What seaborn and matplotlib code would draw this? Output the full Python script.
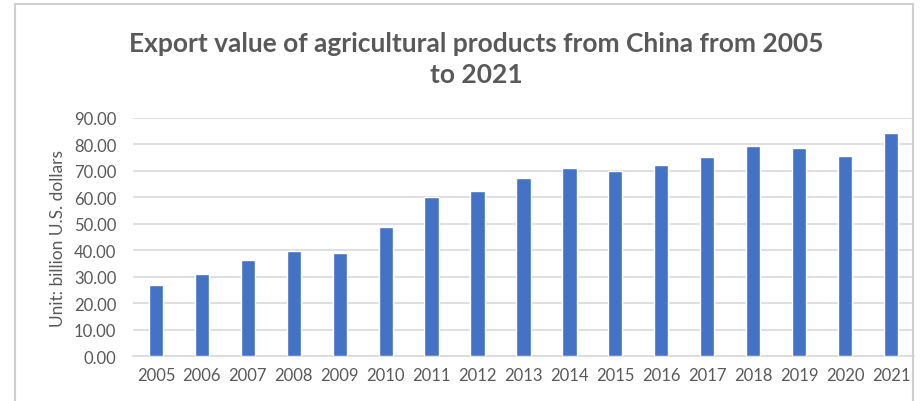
import matplotlib
matplotlib.use("Agg")
import matplotlib.pyplot as plt
import seaborn as sns
import pandas as pd
from matplotlib.patches import Rectangle

# valores (bilhões de dólares)
years = ['2005', '2006', '2007', '2008', '2009', '2010', '2011', '2012', '2013',
         '2014', '2015', '2016', '2017', '2018', '2019', '2020', '2021']
export_value = [27.0, 31.0, 36.4, 39.9, 39.2, 48.7, 60.1, 62.5, 67.3,
                71.2, 70.0, 72.3, 75.2, 79.5, 78.6, 75.8, 84.3]
y_ticks = [0, 10, 20, 30, 40, 50, 60, 70, 80, 90]

sns.set_theme(style="white")
plt.rcParams['font.family'] = ['Lato', 'DejaVu Sans']

df = pd.DataFrame({'year': years, 'value': export_value})

fig = plt.figure(figsize=(9.23, 4.02), dpi=100)
ax = fig.add_axes([0.1441, 0.111, 0.8461, 0.593])

sns.barplot(data=df, x='year', y='value', color='#4472C4', width=0.31,
            saturation=1, ax=ax, zorder=3)

ax.set_ylim(0, 90)
ax.set_yticks(y_ticks)
ax.set_yticklabels([f'{v:.2f}' for v in y_ticks])
ax.grid(axis='y', color='#d9d9d9', linewidth=1.2, zorder=0)
ax.set_axisbelow(True)
for s in ['top', 'right', 'left']:
    ax.spines[s].set_visible(False)
ax.spines['bottom'].set_color('#d9d9d9')
ax.spines['bottom'].set_linewidth(1.2)
ax.tick_params(axis='both', length=0, labelsize=12, labelcolor='#595959')
ax.tick_params(axis='y', pad=12)
ax.tick_params(axis='x', pad=8)
ax.set_xlabel('')
ax.set_ylabel('Unit: billion U.S. dollars', fontsize=12.5, color='#595959', labelpad=6)

fig.text(0.516, 0.852, 'Export value of agricultural products from China from 2005\nto 2021',
         ha='center', va='center', fontsize=19, fontweight='bold', color='#595959',
         linespacing=1.38)

# borda do gráfico
fig.patches.append(Rectangle((0.0163, -0.05), 0.973, 1.0376, transform=fig.transFigure,
                             fill=False, edgecolor='#d0d0d0', linewidth=1.5))

plt.savefig('out.png', dpi=100)
